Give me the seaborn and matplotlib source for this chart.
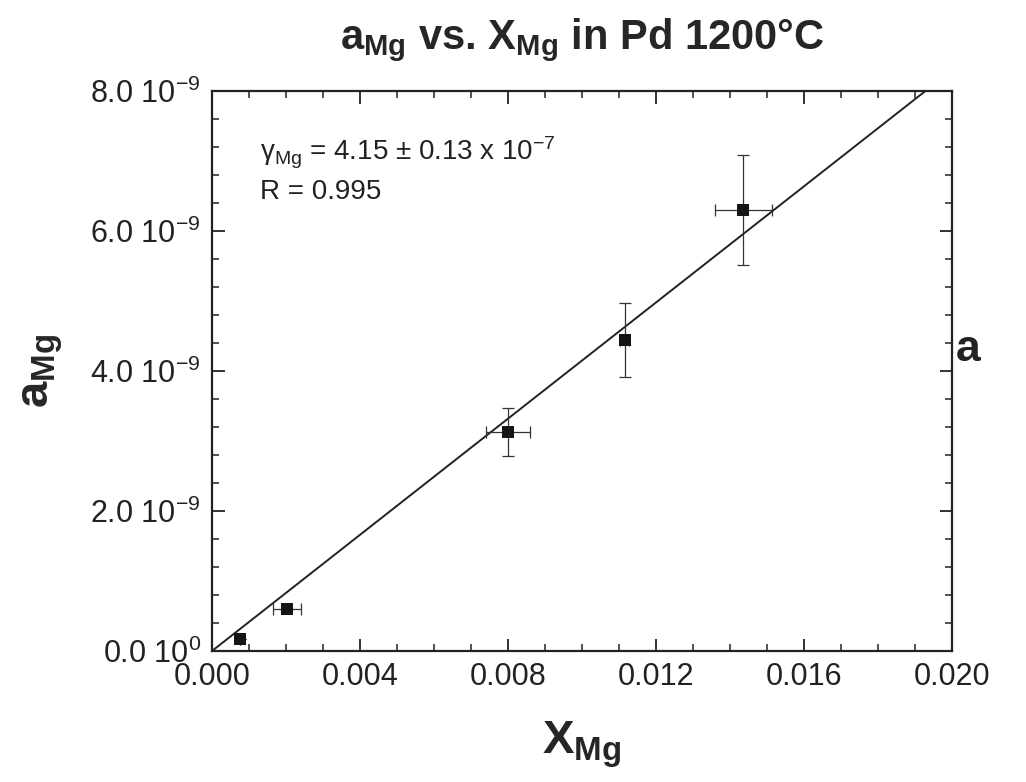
import matplotlib

matplotlib.use("Agg")

import matplotlib.pyplot as plt
import numpy as np
import pandas as pd
import seaborn as sns
from matplotlib.ticker import FuncFormatter, MultipleLocator


# mole fraction of Mg in Pd and measured activity
X_MG = [0.00076, 0.00202, 0.0080, 0.01115, 0.01436]
A_MG = [0.17e-9, 0.60e-9, 3.13e-9, 4.44e-9, 6.30e-9]
X_ERR = [0.0, 0.00038, 0.0006, 0.00012, 0.00076]
A_ERR = [0.0, 0.0, 0.34e-9, 0.53e-9, 0.78e-9]

GAMMA = 4.15e-7
GAMMA_ERR = 0.13e-7
R_VALUE = 0.995

X_LIM = (0.0, 0.020)
Y_LIM = (0.0, 8.0e-9)

FONT = ["Liberation Sans", "DejaVu Sans"]


def y_label(v, pos):
    if abs(v) < 1e-15:
        return r"0.0 10$^{0}$"
    return rf"{v / 1e-9:.1f} 10$^{{\mathrm{{-}}9}}$"


def main():
    sns.set_theme(style="ticks")
    plt.rcParams["font.family"] = FONT
    plt.rcParams["mathtext.fontset"] = "custom"
    plt.rcParams["mathtext.rm"] = "Liberation Sans"
    plt.rcParams["mathtext.it"] = "Liberation Sans"
    plt.rcParams["mathtext.bf"] = "Liberation Sans:bold"
    plt.rcParams["axes.unicode_minus"] = False

    df = pd.DataFrame({"x": X_MG, "a": A_MG, "xerr": X_ERR, "aerr": A_ERR})

    fig = plt.figure(figsize=(10.26, 7.82), dpi=100)
    ax = fig.add_axes([0.2066, 0.1675, 0.7214, 0.7161])

    fit_x = np.linspace(X_LIM[0], X_LIM[1], 50)
    sns.lineplot(x=fit_x, y=GAMMA * fit_x, color="#222222", linewidth=1.4, ax=ax)

    ax.errorbar(df["x"], df["a"], xerr=df["xerr"], yerr=df["aerr"], fmt="none",
                ecolor="#333333", elinewidth=0.9, capsize=4, capthick=0.9)
    sns.scatterplot(data=df, x="x", y="a", marker="s", s=70, color="#151515",
                    edgecolor="#151515", linewidth=0, ax=ax, zorder=5)

    ax.set_xlim(*X_LIM)
    ax.set_ylim(*Y_LIM)
    ax.xaxis.set_major_locator(MultipleLocator(0.004))
    ax.xaxis.set_minor_locator(MultipleLocator(0.001))
    ax.yaxis.set_major_locator(MultipleLocator(2e-9))
    ax.yaxis.set_minor_locator(MultipleLocator(0.4e-9))
    ax.xaxis.set_major_formatter(FuncFormatter(lambda v, p: f"{v:.3f}"))
    ax.yaxis.set_major_formatter(FuncFormatter(y_label))
    ax.tick_params(which="both", direction="in", top=True, right=True, color="#222222")
    ax.tick_params(which="major", length=9, width=1.3, labelsize=22, pad=8,
                   labelcolor="#222222")
    ax.tick_params(which="minor", length=5, width=1.1)
    for s in ax.spines.values():
        s.set_linewidth(1.6)
        s.set_color("#222222")

    ax.set_xlabel(r"$\mathbf{X}_{\mathbf{Mg}}$", fontsize=34, labelpad=20)
    ax.set_ylabel(r"$\mathbf{a}_{\mathbf{Mg}}$", fontsize=34, labelpad=18)
    ax.set_title(r"$\mathbf{a}_{\mathbf{Mg}}$ vs. $\mathbf{X}_{\mathbf{Mg}}$ in Pd 1200°C",
                 fontsize=30, fontweight="bold", pad=30)

    ax.text(0.065, 0.89,
            rf"γ$_{{\mathrm{{Mg}}}}$ = {GAMMA / 1e-7:.2f} ± {GAMMA_ERR / 1e-7:.2f} x 10$^{{\mathrm{{-}}7}}$",
            transform=ax.transAxes, fontsize=20, color="#222222", va="center")
    ax.text(0.065, 0.82, f"R = {R_VALUE:.3f}", transform=ax.transAxes,
            fontsize=20, color="#222222", va="center")

    fig.text(0.932, 0.553, "a", fontsize=32, fontweight="bold", va="center",
             family=["Liberation Sans", "DejaVu Sans"], color="#222222")

    fig.savefig("out.png", dpi=100, facecolor="white")
    plt.close(fig)


if __name__ == "__main__":
    main()
